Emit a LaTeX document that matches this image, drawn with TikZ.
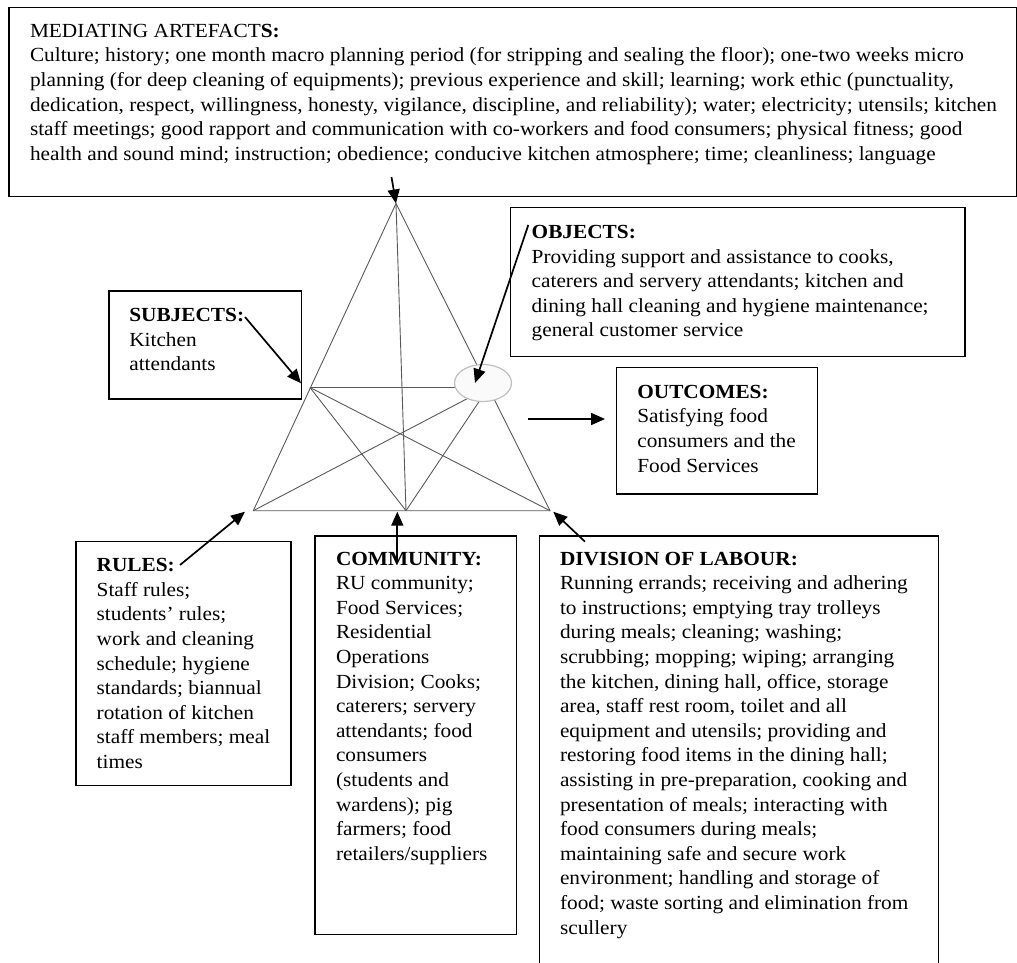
\documentclass[tikz,border=0pt]{standalone}
\usepackage{fontspec}
\setmainfont[FakeStretch=1.065]{Liberation Serif}
\usetikzlibrary{arrows.meta,shapes.geometric}
\begin{document}
\begin{tikzpicture}[x=1pt,y=-1pt,
  box/.style={draw=black, line width=1.3pt, anchor=north west, inner sep=0pt, outer sep=0pt},
  txt/.style={anchor=north west, inner sep=0pt, outer sep=0pt, align=left, font=\fontsize{20}{24.6}\selectfont},
  tri/.style={draw=black!65, line width=0.9pt},
  arr/.style={draw=black, line width=1.7pt, -{Triangle[length=14pt,width=12pt]}}]
\useasboundingbox (0,0) rectangle (1017,963);
\clip (0,0) rectangle (1017,963);

% boxes
\node[box, minimum width=1007.5pt, minimum height=189.4pt] (medbox) at (9,7.3) {};
\node[box, minimum width=192.7pt, minimum height=108pt] (subbox) at (109,291) {};
\node[box, minimum width=454.3pt, minimum height=149.4pt] (objbox) at (510.7,207.3) {};
\node[box, minimum width=201.2pt, minimum height=126.3pt] (outbox) at (616.5,367.7) {};
\node[box, minimum width=215pt, minimum height=244pt] (rulbox) at (76,541.7) {};
\node[box, minimum width=201.7pt, minimum height=398.3pt] (combox) at (315,536) {};
\node[box, minimum width=399.2pt, minimum height=450pt] (dolbox) at (539.3,536) {};

% texts
\node[txt] (medtxt) at (30,21.3) {\rule{0pt}{16pt}MEDIATING ARTEFACT\textbf{S:}\\
Culture; history; one month macro planning period (for stripping and sealing the floor); one-two weeks micro\\
planning (for deep cleaning of equipments); previous experience and skill; learning; work ethic (punctuality,\\
dedication, respect, willingness, honesty, vigilance, discipline, and reliability); water; electricity; utensils; kitchen\\
staff meetings; good rapport and communication with co-workers and food consumers; physical fitness; good\\
health and sound mind; instruction; obedience; conducive kitchen atmosphere; time; cleanliness; language};

\node[txt] (subtxt) at (129.3,305.7) {\rule{0pt}{16pt}\textbf{SUBJECTS:}\\Kitchen\\attendants};

\node[txt] (objtxt) at (531.7,222.5) {\rule{0pt}{16pt}\textbf{OBJECTS:}\\Providing support and assistance to cooks,\\caterers and servery attendants; kitchen and\\dining hall cleaning and hygiene maintenance;\\general customer service};

\node[txt] (outtxt) at (637.3,382.3) {\rule{0pt}{16pt}\textbf{OUTCOMES:}\\Satisfying food\\consumers and the\\Food Services};

\node[txt] (rultxt) at (96.7,555.7) {\rule{0pt}{16pt}\textbf{RULES:}\\Staff rules;\\students’ rules;\\work and cleaning\\schedule; hygiene\\standards; biannual\\rotation of kitchen\\staff members; meal\\times};

\node[txt] (comtxt) at (336,549) {\rule{0pt}{16pt}\textbf{COMMUNITY:}\\RU community;\\Food Services;\\Residential\\Operations\\Division; Cooks;\\caterers; servery\\attendants; food\\consumers\\(students and\\wardens); pig\\farmers; food\\retailers/suppliers};

\node[txt] (doltxt) at (560,549) {\rule{0pt}{16pt}\textbf{DIVISION OF LABOUR:}\\Running errands; receiving and adhering\\to instructions; emptying tray trolleys\\during meals; cleaning; washing;\\scrubbing; mopping; wiping; arranging\\the kitchen, dining hall, office, storage\\area, staff rest room, toilet and all\\equipment and utensils; providing and\\restoring food items in the dining hall;\\assisting in pre-preparation, cooking and\\presentation of meals; interacting with\\food consumers during meals;\\maintaining safe and secure work\\environment; handling and storage of\\food; waste sorting and elimination from\\scullery};

% triangle
\coordinate (A) at (396,203.5);
\coordinate (BL) at (253.3,510.7);
\coordinate (BC) at (406,510.7);
\coordinate (BR) at (550,510.7);
\coordinate (ML) at (310,387.5);
\coordinate (MR) at (488.5,387.5);
\draw[tri] (A) -- (BL) -- (BR) -- cycle;
\draw[tri] (A) -- (BC);
\draw[tri] (ML) -- (MR);
\draw[tri] (ML) -- (BC);
\draw[tri] (ML) -- (BR);
\draw[tri] (MR) -- (BL);
\draw[tri] (MR) -- (BC);
\node[ellipse, draw=black!25, fill=black!2, line width=1.2pt, minimum width=57pt, minimum height=37pt, inner sep=0pt] (oval) at (483,383) {};

% arrows
\coordinate (medS) at (391.5,177);
\coordinate (subS) at (245,317);
\coordinate (subT) at (301,383.3);
\coordinate (objS) at (528.3,225);
\coordinate (objT) at (475,383);
\coordinate (outS) at (528.3,419);
\coordinate (outT) at (605,419);
\coordinate (rulS) at (180,565);
\coordinate (rulT) at (245,511.7);
\coordinate (comS) at (397.3,563.3);
\coordinate (comT) at (397.3,511.7);
\coordinate (dolS) at (585,541.7);
\coordinate (dolT) at (553.3,511.7);
\draw[arr] (medS) -- (A);
\draw[arr] (subS) -- (subT);
\draw[arr] (objS) -- (objT);
\draw[arr] (outS) -- (outT);
\draw[arr] (rulS) -- (rulT);
\draw[arr] (comS) -- (comT);
\draw[arr] (dolS) -- (dolT);
\end{tikzpicture}
\end{document}
